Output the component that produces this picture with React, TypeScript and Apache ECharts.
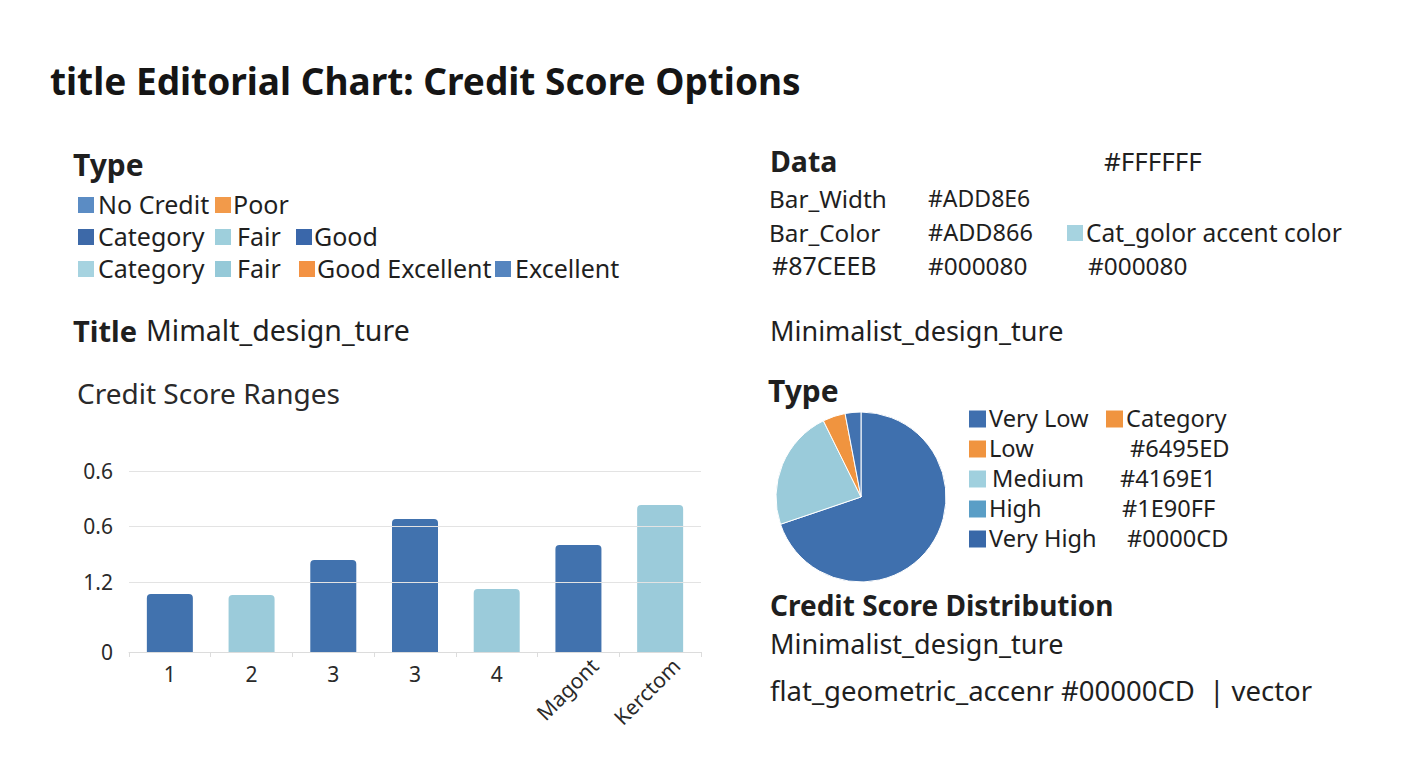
import React, { useEffect, useRef } from "react";
import * as echarts from "echarts";

const FONT = '"Noto Sans", "Open Sans", sans-serif';
const INK = "#1f1f1f";
const DARK = "#4172ae";
const LIGHT = "#9bcbda";
const ORANGE = "#f0943f";

// Bar chart data
const barCategories = ["1", "2", "3", "3", "4", "Magont", "Kerctom"];
const barValues = [0.58, 0.57, 0.92, 1.33, 0.63, 1.07, 1.47];
const barShades = ["dark", "light", "dark", "dark", "light", "dark", "light"];
const yTickValues = [0, 0.7, 1.26, 1.81];
const yTickLabels = ["0", "1.2", "0.6", "0.6"];

// Pie data
const pieNames = ["Very Low", "Medium", "Low", "High"];
const pieValues = [69.8, 22.9, 4.3, 3.0];
const pieColors = ["#3f70ae", "#9acbda", ORANGE, "#4272b0"];

// Legends / notes
const typeRows = [
  [["No Credit", "#5b8cc4"], ["Poor", "#f29a4a"]],
  [["Category", "#3d69a8"], ["Fair", "#9ecfdc"], ["Good", "#3a67aa"]],
  [["Category", "#a6d3e0"], ["Fair", "#95c9d8"], ["Good Excellent", "#f39243"], ["Excellent", "#5585bf"]],
];
const pieLegendLabels = ["Very Low", "Low", "Medium", "High", "Very High"];
const pieLegendColors = ["#3f6fae", ORANGE, "#a0d0de", "#5a9ec6", "#3968a8"];
const pieLegendCodes = ["#6495ED", "#4169E1", "#1E90FF", "#0000CD"];

function txt(text: string, x: number, y: number, size: number, weight: string = "normal", color: string = INK) {
  return {
    type: "text",
    x,
    y,
    style: { text, fontSize: size, fontWeight: weight, fontFamily: FONT, fill: color, verticalAlign: "middle" },
  };
}
function sq(x: number, y: number, color: string, s: number = 15) {
  return { type: "rect", shape: { x, y: y - s / 2, width: s, height: s }, style: { fill: color } };
}

export default function App() {
  const ref = useRef<HTMLDivElement>(null);
  useEffect(() => {
    const chart = echarts.init(ref.current!, null, { renderer: "svg" });

    const graphics: any[] = [];
    graphics.push(txt("title Editorial Chart: Credit Score Options", 50, 80, 37, "bold", "#151515"));
    graphics.push(txt("Type", 73, 164, 30, "bold"));
    const rowY = [204, 236, 268];
    const sqX = [
      [78, 215],
      [78, 215, 296],
      [78, 215, 299, 495],
    ];
    const tX = [
      [98, 233],
      [98, 237, 314],
      [98, 237, 317, 515],
    ];
    typeRows.forEach((row, r) => {
      row.forEach(([label, color], c) => {
        graphics.push(sq(sqX[r][c], rowY[r] + 1, color, 16));
        graphics.push(txt(label, tX[r][c], rowY[r], 25));
      });
    });
    graphics.push(txt("Title", 73, 330, 29, "bold"));
    graphics.push(txt("Mimalt_design_ture", 146, 330, 28.5));
    graphics.push(txt("Credit Score Ranges", 77, 393, 28, "normal", "#2a2a2a"));

    graphics.push(txt("Data", 770, 161, 28.5, "bold"));
    graphics.push(txt("#FFFFFF", 1104, 161, 26));
    graphics.push(txt("Bar_Width", 769, 198, 24.3));
    graphics.push(txt("#ADD8E6", 928, 198, 23));
    graphics.push(txt("Bar_Color", 769, 232, 24.3));
    graphics.push(txt("#ADD866", 928, 232, 23.5));
    graphics.push(sq(1067, 233, "#a6d3e0", 16));
    graphics.push(txt("Cat_golor accent color", 1086, 232, 24.5));
    graphics.push(txt("#87CEEB", 772, 265, 25));
    graphics.push(txt("#000080", 928, 265, 24.4));
    graphics.push(txt("#000080", 1088, 265, 24.4));
    graphics.push(txt("Minimalist_design_ture", 770, 330, 27));

    graphics.push(txt("Type", 768, 390, 30, "bold"));
    const legY = [418, 448, 478, 508, 538];
    pieLegendLabels.forEach((label, i) => {
      graphics.push(sq(969, legY[i] + 1, pieLegendColors[i], 17));
      graphics.push(txt(label, 989 + (label === "Medium" ? 3 : 0), legY[i], 23.6));
    });
    graphics.push(sq(1106, 419, ORANGE, 17));
    graphics.push(txt("Category", 1126, 418, 23.6));
    const codeX = [1130, 1120, 1122, 1127];
    pieLegendCodes.forEach((code, i) => {
      graphics.push(txt(code, codeX[i], legY[i + 1], 23.6));
    });

    graphics.push(txt("Credit Score Distribution", 770, 605, 28, "bold"));
    graphics.push(txt("Minimalist_design_ture", 770, 643, 27));
    graphics.push(txt("flat_geometric_accenr #00000CD  | vector", 770, 690, 27.5));

    const labelStyle = { fontSize: 21, fontFamily: FONT, color: "#2a2a2a" };

    chart.setOption({
      animation: false,
      backgroundColor: "#ffffff",
      grid: [
        { left: 129, right: 1408 - 701, top: 471, bottom: 768 - 652, containLabel: false },
        { left: 129 + 16, right: 1408 - 701 - 16, top: 471, bottom: 768 - 652, containLabel: false },
      ],
      xAxis: [
        {
          type: "category",
          gridIndex: 0,
          data: barCategories,
          axisLine: { lineStyle: { color: "#dcdcdc", width: 1 } },
          axisTick: { show: true, length: 5, lineStyle: { color: "#dcdcdc" } },
          axisLabel: {
            ...labelStyle,
            interval: 0,
            margin: 11,
            formatter: (v: string, i: number) => (i < 5 ? v : ""),
          },
        },
        {
          type: "category",
          gridIndex: 1,
          data: barCategories,
          position: "bottom",
          axisLine: { show: false },
          axisTick: { show: false },
          axisLabel: {
            ...labelStyle,
            interval: 0,
            rotate: 45,
            margin: 10,
            formatter: (v: string, i: number) => (i >= 5 ? v : ""),
          },
        },
      ],
      yAxis: [
        {
          type: "value",
          gridIndex: 0,
          min: 0,
          max: yTickValues[yTickValues.length - 1],
          splitLine: { show: false },
          axisLine: { show: false },
          axisTick: { show: false },
          axisLabel: {
            ...labelStyle,
            customValues: yTickValues,
            margin: 16,
            formatter: (v: number) => {
              const idx = yTickValues.findIndex((t) => Math.abs(t - v) < 1e-6);
              return idx >= 0 ? yTickLabels[idx] : "";
            },
          },
        },
        {
          type: "value",
          gridIndex: 1,
          min: 0,
          max: yTickValues[yTickValues.length - 1],
          show: false,
        },
      ],
      series: [
        {
          type: "bar",
          xAxisIndex: 0,
          yAxisIndex: 0,
          barWidth: 46,
          data: barValues.map((v, i) => ({
            value: v,
            itemStyle: { color: barShades[i] === "dark" ? DARK : LIGHT, borderRadius: [4, 4, 0, 0] },
          })),
          markLine: {
            silent: true,
            symbol: "none",
            label: { show: false },
            lineStyle: { color: "#e3e3e3", width: 1, type: "solid" },
            data: yTickValues.slice(1).map((t) => ({ yAxis: t })),
          },
          z: 3,
        },
        {
          type: "pie",
          center: [861, 497],
          radius: 85,
          startAngle: 90,
          clockwise: true,
          label: { show: false },
          labelLine: { show: false },
          itemStyle: { borderColor: "#ffffff", borderWidth: 1 },
          data: pieNames.map((n, i) => ({ name: n, value: pieValues[i], itemStyle: { color: pieColors[i] } })),
        },
      ],
      graphic: graphics,
    });
    return () => chart.dispose();
  }, []);
  return (
    <div
      ref={ref}
      style={{ position: "fixed", left: 0, top: 0, width: 1408, height: 768, background: "#fff" }}
    />
  );
}
